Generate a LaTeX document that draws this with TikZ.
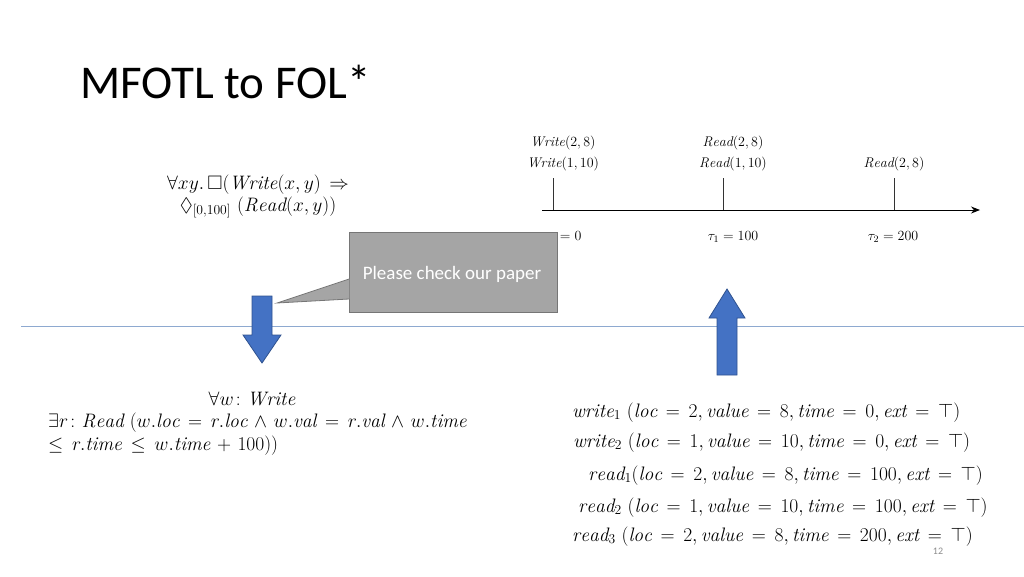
\RequirePackage{fix-cm}
\documentclass[tikz,border=0pt]{standalone}
\usepackage{amsmath,amssymb}
\usepackage{fontspec}
\newfontfamily\carlito{Carlito}
\usetikzlibrary{arrows.meta}
\definecolor{arrowblue}{HTML}{4472C4}
\definecolor{arrowedge}{HTML}{2F528F}
\definecolor{calloutfill}{HTML}{A5A5A5}
\definecolor{calloutedge}{HTML}{767676}
\definecolor{sepline}{HTML}{8EA9D0}
\definecolor{pagegray}{HTML}{8C8C8C}
\newcommand\fmspacing{\thickmuskip=8mu plus 2mu\relax\medmuskip=6mu plus 2mu\relax}
\tikzset{
  bigarrow/.style={fill=arrowblue, draw=arrowedge, line width=0.8pt},
  tl/.style={font=\fontsize{14}{16}\selectfont, anchor=base, inner sep=0pt},
  fm/.style={font=\fontsize{19.5}{23}\selectfont\fmspacing, inner sep=0pt},
  tick/.style={draw=black!80, line width=0.9pt},
}
\begin{document}
\begin{tikzpicture}[x=1pt,y=-1pt]
\useasboundingbox (0,0) rectangle (1024,576);
% title
\node[anchor=base west, inner sep=0pt, font=\carlito\fontsize{47}{50}\selectfont] (title) at (80,98) {MFOTL to FOL*};
% separator
\coordinate (sepL) at (21,326);
\coordinate (sepR) at (1024,326);
\draw[sepline, line width=1pt] (sepL) -- (sepR);
% MFOTL formula
\node[fm, anchor=base] (f1) at (258,189) {$\forall xy.\,\Box(\mathit{Write}(x,y) \Rightarrow$};
\node[fm, anchor=base] (f2) at (258,211) {$\Diamond_{[0,100]}\ (\mathit{Read}(x,y))$};
% timeline
\coordinate (axL) at (542,210);
\coordinate (axR) at (980,210);
\draw[line width=0.9pt, -{Stealth[length=9pt,width=7pt]}] (axL) -- (axR);
\coordinate (t0) at (553,210); \coordinate (t0u) at (553,178);
\coordinate (t1) at (723,210); \coordinate (t1u) at (723,178);
\coordinate (t2) at (894,210); \coordinate (t2u) at (894,178);
\draw[tick] (t0) -- (t0u);
\draw[tick] (t1) -- (t1u);
\draw[tick] (t2) -- (t2u);
\node[tl] (w28) at (563,146) {$\mathit{Write}(2,8)$};
\node[tl] (w110) at (563,167) {$\mathit{Write}(1,10)$};
\node[tl] (r28a) at (733,146) {$\mathit{Read}(2,8)$};
\node[tl] (r110) at (733,167) {$\mathit{Read}(1,10)$};
\node[tl] (r28b) at (894,167) {$\mathit{Read}(2,8)$};
\node[tl] (tau0) at (563,240) {$\tau_0 = 0$};
\node[tl] (tau1) at (733,240) {$\tau_1 = 100$};
\node[tl] (tau2) at (893,240) {$\tau_2 = 200$};
% callout
\node[draw=calloutedge, fill=calloutfill, line width=0.8pt, minimum width=208pt, minimum height=80pt, inner sep=0pt, anchor=north west] (callout) at (349,232) {};
\node[font=\carlito\fontsize{19}{21}\selectfont, text=white, anchor=base, inner sep=0pt] (ctext) at (452,279) {Please check our paper};
\coordinate (ptip) at (277,303);
\fill[calloutfill] (349.4,279) -- (ptip) -- (349.4,299) -- cycle;
\draw[calloutedge, line width=0.8pt] (349,279) -- (ptip) -- (349,299);
% down arrow
\draw[bigarrow] (252,296) -- (272,296) -- (272,335) -- (281,335) -- (262,363) -- (243,335) -- (252,335) -- cycle;
% up arrow
\draw[bigarrow] (727,289) -- (745,318) -- (737,318) -- (737,375) -- (717,375) -- (717,318) -- (709,318) -- cycle;
% FOL formula
\node[fm, anchor=base] (g1) at (252,405) {$\forall w\colon \mathit{Write}$};
\node[fm, anchor=base west] (g2) at (48,427) {$\exists r\colon \mathit{Read}\ (w.\mathit{loc} = r.\mathit{loc} \wedge w.\mathit{val} = r.\mathit{val} \wedge w.\mathit{time}$};
\node[fm, anchor=base west] (g3) at (48,450) {$\leq r.\mathit{time} \leq w.\mathit{time} + 100))$};
% records
\node[fm, anchor=base west] (rw1) at (572,417) {$\mathit{write}_1\ (\mathit{loc} = 2, \mathit{value} = 8, \mathit{time} = 0, \mathit{ext} = \top)$};
\node[fm, anchor=base west] (rw2) at (573,447) {$\mathit{write}_2\ (\mathit{loc} = 1, \mathit{value} = 10, \mathit{time} = 0, \mathit{ext} = \top)$};
\node[fm, anchor=base west] (rr1) at (588,480) {$\mathit{read}_1(\mathit{loc} = 2, \mathit{value} = 8, \mathit{time} = 100, \mathit{ext} = \top)$};
\node[fm, anchor=base west] (rr2) at (578,512) {$\mathit{read}_2\ (\mathit{loc} = 1, \mathit{value} = 10, \mathit{time} = 100, \mathit{ext} = \top)$};
\node[fm, anchor=base west] (rr3) at (572,541) {$\mathit{read}_3\ (\mathit{loc} = 2, \mathit{value} = 8, \mathit{time} = 200, \mathit{ext} = \top)$};
% page number
\node[font=\carlito\fontsize{10}{12}\selectfont, text=pagegray, anchor=base, inner sep=0pt] (pg) at (938,554) {12};
\end{tikzpicture}
\end{document}
